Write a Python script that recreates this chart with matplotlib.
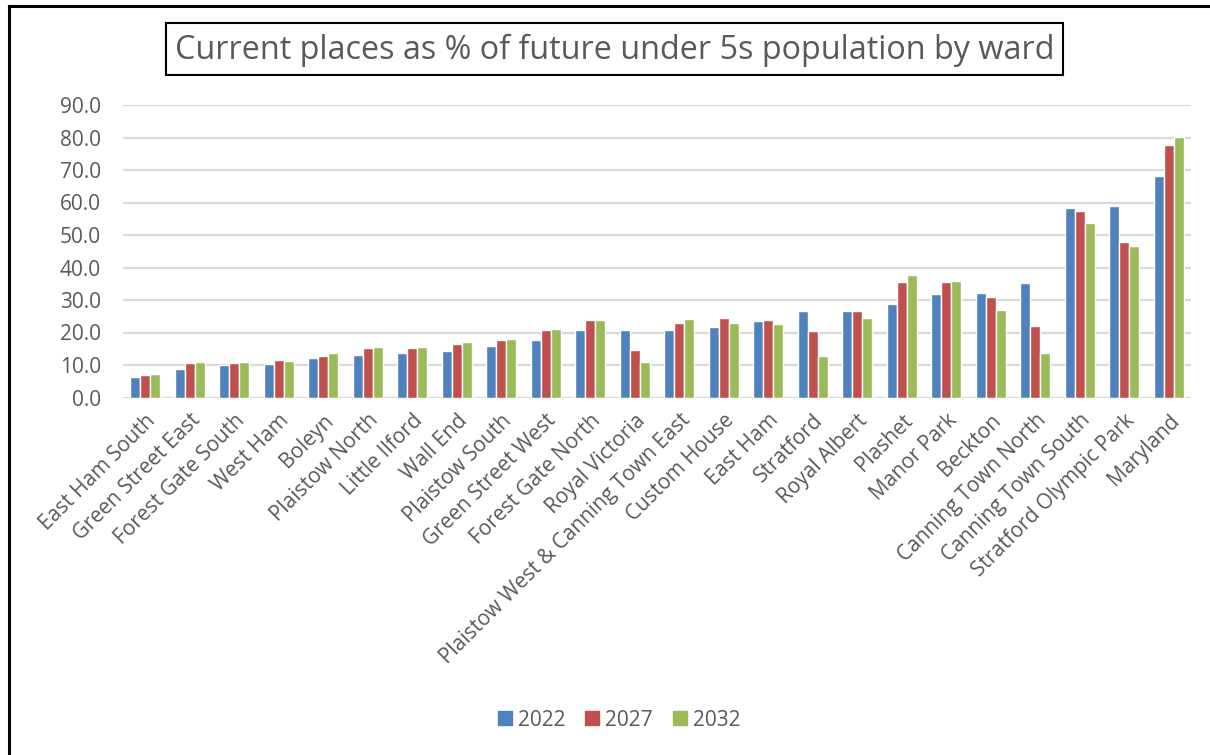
import matplotlib
matplotlib.use("Agg")
import matplotlib.pyplot as plt
import numpy as np
from matplotlib.patches import Rectangle
from matplotlib.lines import Line2D

wards = [
    "East Ham South", "Green Street East", "Forest Gate South", "West Ham",
    "Boleyn", "Plaistow North", "Little Ilford", "Wall End", "Plaistow South",
    "Green Street West", "Forest Gate North", "Royal Victoria",
    "Plaistow West & Canning Town East", "Custom House", "East Ham",
    "Stratford", "Royal Albert", "Plashet", "Manor Park", "Beckton",
    "Canning Town North", "Canning Town South", "Stratford Olympic Park",
    "Maryland",
]
years = ["2022", "2027", "2032"]
v2022 = [6.3, 8.9, 10.0, 10.2, 12.1, 13.2, 13.6, 14.3, 15.9, 17.8, 20.7, 20.7,
         20.7, 21.6, 23.5, 26.7, 26.7, 28.9, 31.8, 32.1, 35.2, 58.2, 58.8, 68.3]
v2027 = [7.0, 10.6, 10.7, 11.4, 12.9, 15.1, 15.1, 16.4, 17.7, 20.9, 23.7, 14.6,
         23.0, 24.6, 23.8, 20.5, 26.6, 35.5, 35.4, 30.9, 21.9, 57.5, 47.9, 77.8]
v2032 = [7.3, 10.8, 10.9, 11.2, 13.8, 15.5, 15.4, 17.1, 18.1, 21.0, 24.0, 11.0,
         24.2, 22.8, 22.5, 12.8, 24.4, 37.8, 35.8, 26.9, 13.8, 53.6, 46.6, 80.3]
yticks = np.arange(0, 91, 10)

colors = ["#4f81bd", "#c0504d", "#9bbb59"]
text_color = "#595959"
font = "Open Sans"
plt.rcParams["font.family"] = [font, "DejaVu Sans"]

W, H = 1210, 755
fig = plt.figure(figsize=(W / 100, H / 100), dpi=100)

def fx(px):
    return px / W

def fy(py):
    return 1 - py / H

ax = fig.add_axes([fx(123), fy(397.5), fx(1191) - fx(123), fy(105) - fy(397.5)])

x = np.arange(len(wards))
bw = 0.225
for i, (vals, col, lab) in enumerate(zip([v2022, v2027, v2032], colors, years)):
    ax.bar(x + (i - 1) * bw, vals, width=bw, color=col, edgecolor="white",
           linewidth=1.0, label=lab, zorder=3)

ax.set_xlim(-0.5, len(wards) - 0.5)
ax.set_ylim(0, 90)
ax.set_yticks(yticks)
ax.set_yticklabels([f"{t:.1f}" for t in yticks])
ax.yaxis.grid(True, color="#d9d9d9", linewidth=1.6, zorder=0)
ax.set_axisbelow(True)
for s in ax.spines.values():
    s.set_visible(False)
ax.tick_params(axis="y", length=0, pad=16, labelsize=15, labelcolor=text_color)
ax.tick_params(axis="x", length=0, pad=9, labelsize=15, labelcolor=text_color)
ax.set_xticks(x)
ax.set_xticklabels(wards, rotation=45, ha="right", rotation_mode="anchor")

# title in a framed box
fig.patches.append(Rectangle((fx(166), fy(75)), fx(1063) - fx(166), fy(23) - fy(75),
                             transform=fig.transFigure, fill=False,
                             edgecolor="black", linewidth=1.5))
fig.text(fx(614.5), fy(50), "Current places as % of future under 5s population by ward",
         ha="center", va="center", fontsize=23.3, color=text_color)

# outer chart border (top and left)
fig.add_artist(Line2D([fx(8.5), 1], [fy(6), fy(6)], color="black", linewidth=2.2))
fig.add_artist(Line2D([fx(8.5), fx(8.5)], [fy(6), 0], color="black", linewidth=2.2))

handles = [Rectangle((0, 0), 1, 1, color=c) for c in colors]
fig.legend(handles, years, loc="center", bbox_to_anchor=(fx(619), fy(720)),
           ncol=3, frameon=False, fontsize=15, labelcolor=text_color,
           handlelength=0.67, handleheight=0.67, handletextpad=0.3, columnspacing=0.95)

fig.savefig("out.png", dpi=100)
